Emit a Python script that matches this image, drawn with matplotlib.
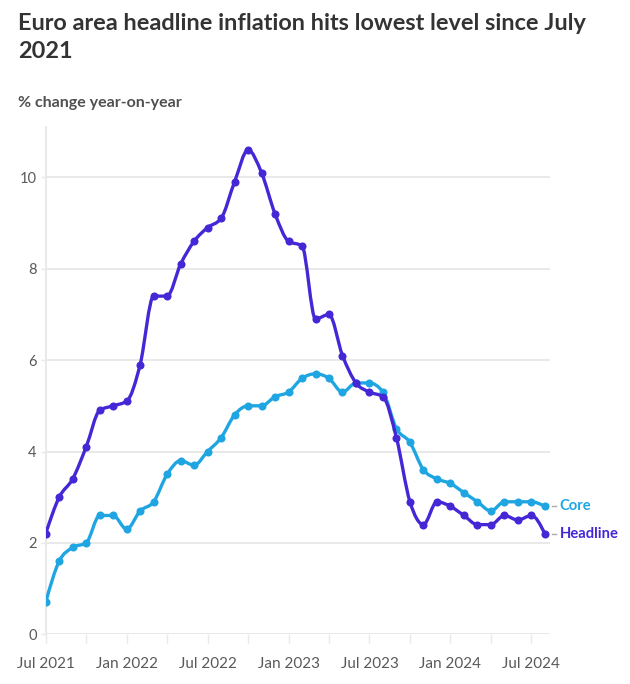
import numpy as np
import matplotlib
matplotlib.use("Agg")
import matplotlib.pyplot as plt
from matplotlib.path import Path
from matplotlib.patches import PathPatch
from matplotlib.transforms import blended_transform_factory

# ---------------- data ----------------
months = ["Jul 2021", "Aug 2021", "Sep 2021", "Oct 2021", "Nov 2021", "Dec 2021",
          "Jan 2022", "Feb 2022", "Mar 2022", "Apr 2022", "May 2022", "Jun 2022",
          "Jul 2022", "Aug 2022", "Sep 2022", "Oct 2022", "Nov 2022", "Dec 2022",
          "Jan 2023", "Feb 2023", "Mar 2023", "Apr 2023", "May 2023", "Jun 2023",
          "Jul 2023", "Aug 2023", "Sep 2023", "Oct 2023", "Nov 2023", "Dec 2023",
          "Jan 2024", "Feb 2024", "Mar 2024", "Apr 2024", "May 2024", "Jun 2024",
          "Jul 2024", "Aug 2024"]
headline = [2.2, 3.0, 3.4, 4.1, 4.9, 5.0, 5.1, 5.9, 7.4, 7.4, 8.1, 8.6,
            8.9, 9.1, 9.9, 10.6, 10.1, 9.2, 8.6, 8.5, 6.9, 7.0, 6.1, 5.5,
            5.3, 5.2, 4.3, 2.9, 2.4, 2.9, 2.8, 2.6, 2.4, 2.4, 2.6, 2.5,
            2.6, 2.2]
core = [0.7, 1.6, 1.9, 2.0, 2.6, 2.6, 2.3, 2.7, 2.9, 3.5, 3.8, 3.7,
        4.0, 4.3, 4.8, 5.0, 5.0, 5.2, 5.3, 5.6, 5.7, 5.6, 5.3, 5.5,
        5.5, 5.3, 4.5, 4.2, 3.6, 3.4, 3.3, 3.1, 2.9, 2.7, 2.9, 2.9,
        2.9, 2.8]
series_names = ["Core", "Headline"]
y_ticks = [0, 2, 4, 6, 8, 10]
x_tick_labels = ["Jul 2021", "Jan 2022", "Jul 2022", "Jan 2023",
                 "Jul 2023", "Jan 2024", "Jul 2024"]

title = "Euro area headline inflation hits lowest level since July\n2021"
subtitle = "% change year-on-year"

# ---------------- style ----------------
HEAD_C = "#4527d6"
CORE_C = "#1fa6e2"
GRID_C = "#e9e9e9"
TEXT_C = "#333333"
TICK_C = "#595959"
FONT = ["Lato", "DejaVu Sans"]
plt.rcParams["font.family"] = FONT

W, H = 630, 684
fig = plt.figure(figsize=(W / 100, H / 100), dpi=100)
left_px, right_px, bottom_px, top_px = 45.7, 550, 634.3, 126.7
ax = fig.add_axes([left_px / W, 1 - bottom_px / H,
                   (right_px - left_px) / W, (bottom_px - top_px) / H])

x = np.arange(len(months), dtype=float)


def monotone_path(xs, ys):
    """Monotone-x cubic Bezier path through the points (like d3.curveMonotoneX)."""
    xs = np.asarray(xs, float)
    ys = np.asarray(ys, float)
    n = len(xs)
    h = np.diff(xs)
    s = np.diff(ys) / h
    t = np.zeros(n)
    for i in range(1, n - 1):
        h0, h1 = h[i - 1], h[i]
        s0, s1 = s[i - 1], s[i]
        p = (s0 * h1 + s1 * h0) / (h0 + h1)
        t[i] = (np.sign(s0) + np.sign(s1)) * min(abs(s0), abs(s1), 0.5 * abs(p))
    t[0] = (3 * s[0] - t[1]) / 2
    t[-1] = (3 * s[-1] - t[-2]) / 2
    verts = [(xs[0], ys[0])]
    codes = [Path.MOVETO]
    for i in range(n - 1):
        dx = (xs[i + 1] - xs[i]) / 3
        verts += [(xs[i] + dx, ys[i] + dx * t[i]),
                  (xs[i + 1] - dx, ys[i + 1] - dx * t[i + 1]),
                  (xs[i + 1], ys[i + 1])]
        codes += [Path.CURVE4] * 3
    return Path(verts, codes)


for vals, col, z in [(core, CORE_C, 3), (headline, HEAD_C, 4)]:
    patch = PathPatch(monotone_path(x, vals), facecolor="none", edgecolor=col,
                      lw=2.4, capstyle="round", joinstyle="round", zorder=z)
    ax.add_patch(patch)
    ax.plot(x, vals, "o", color=col, ms=5.8, zorder=z + 0.5, mec="none")

# axes
ax.set_xlim(0, (right_px - left_px) / 13.49)
ax.set_ylim(0, (bottom_px - top_px) / 45.7)
ax.set_yticks(y_ticks)
ax.set_yticklabels([str(v) for v in y_ticks])
ax.grid(axis="y", color=GRID_C, lw=1.4, zorder=0)
ax.set_xticks(np.arange(0, len(months), 6))
ax.set_xticklabels(x_tick_labels)
ax.set_xticks(np.arange(3, len(months), 6), minor=True)

for sp in ["top", "right", "bottom"]:
    ax.spines[sp].set_visible(False)
ax.spines["left"].set_color(GRID_C)
ax.spines["left"].set_linewidth(1.4)
ax.tick_params(axis="y", length=3.5, width=1, color=GRID_C, labelcolor=TICK_C,
               labelsize=10.5, pad=3)
ax.tick_params(axis="x", which="both", length=6.5, width=1, color=GRID_C,
               labelcolor=TICK_C, labelsize=11, pad=10)

# end labels
tr = blended_transform_factory(fig.transFigure, ax.transData)
for name, vals, col in [("Core", core, CORE_C), ("Headline", headline, HEAD_C)]:
    yv = vals[-1]
    ax.plot([552 / W, 556 / W], [yv, yv], color="#aaaaaa", lw=1,
            transform=tr, clip_on=False)
    fig.text(559.5 / W, yv, name, transform=tr, color=col, fontsize=10.6,
             fontweight="bold", va="center", ha="left")

# title & subtitle
fig.text(18 / W, 1 - 57.7 / H, title, fontsize=16.9, fontweight="bold",
         color=TEXT_C, va="baseline", ha="left", linespacing=1.38)
fig.text(17.5 / W, 1 - 106.7 / H, subtitle, fontsize=11.5, fontweight="bold",
         color="#505050", va="baseline", ha="left")

fig.savefig("out.png", dpi=100)
